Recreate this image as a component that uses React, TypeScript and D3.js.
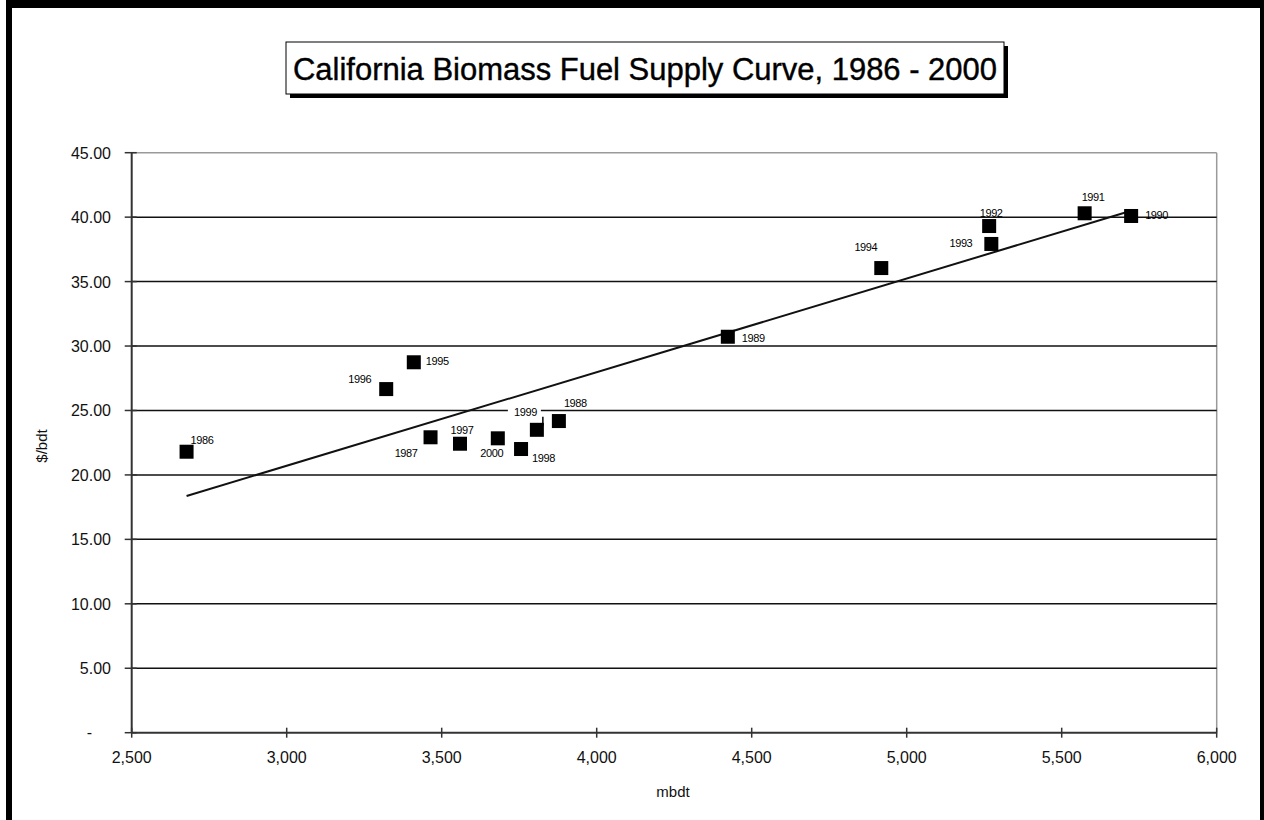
import React from "react";
import * as d3 from "d3";

// ---- data ----
const years = ["1986", "1987", "1988", "1989", "1990", "1991", "1992", "1993", "1994", "1995", "1996", "1997", "1998", "1999", "2000"];
const supplyMbdt = [2677, 3464, 3878, 4423, 5724, 5574, 5266, 5273, 4918, 3410, 3321, 3559, 3756, 3807, 3681];
const pricePerBdt = [21.8, 22.92, 24.18, 30.72, 40.09, 40.3, 39.31, 37.92, 36.05, 28.74, 26.66, 22.42, 22.01, 23.5, 22.84];
const xTicks = [2500, 3000, 3500, 4000, 4500, 5000, 5500, 6000];
const yTicks = [0, 5, 10, 15, 20, 25, 30, 35, 40, 45];
const titleText = "California Biomass Fuel Supply Curve, 1986 - 2000";

// label placement (layout only): dx, dy from marker centre, anchor
const labelLayout: Record<string, [number, number, string]> = {
  "1986": [4, -8, "start"],
  "1987": [-13, 20, "end"],
  "1988": [5, -14, "start"],
  "1989": [14, 5, "start"],
  "1990": [14, 3, "start"],
  "1991": [-3, -12, "start"],
  "1992": [2, -9, "middle"],
  "1993": [-19, 3, "end"],
  "1994": [-4, -17, "end"],
  "1995": [12, 3, "start"],
  "1996": [-15, -6, "end"],
  "1997": [2, -10, "middle"],
  "1998": [11, 13, "start"],
  "1999": [0, -14, "end"],
  "2000": [-6, 19, "middle"],
};

const W = 1264;
const H = 820;
const L = 131.7, R = 1216.7, T = 152.7, B = 732.7;

export default function App() {
  const x = d3.scaleLinear().domain([2500, 6000]).range([L, R]);
  const y = d3.scaleLinear().domain([0, 45]).range([B, T]);

  // linear regression trend line
  const n = supplyMbdt.length;
  const mx = d3.mean(supplyMbdt) as number;
  const my = d3.mean(pricePerBdt) as number;
  let sxy = 0, sxx = 0;
  for (let i = 0; i < n; i++) {
    sxy += (supplyMbdt[i] - mx) * (pricePerBdt[i] - my);
    sxx += (supplyMbdt[i] - mx) ** 2;
  }
  const slope = sxy / sxx;
  const icpt = my - slope * mx;
  const [x0, x1] = d3.extent(supplyMbdt) as [number, number];
  const trend = d3.line<number>().x((d) => x(d)).y((d) => y(icpt + slope * d))([x0, x1]) as string;

  const fmtX = d3.format(",");
  const fmtY = d3.format(".2f");
  const ms = 14;

  return (
    <svg width={W} height={H} style={{ position: "absolute", left: 0, top: 0, display: "block", background: "#fff" }} fontFamily="Arial, 'Liberation Sans', sans-serif">
      <rect x={0} y={0} width={W} height={H} fill="#fff" />
      {/* outer frame */}
      <rect x={6} y={0} width={6} height={H} fill="#000" />
      <rect x={6} y={0} width={W - 6} height={8} fill="#000" />
      <rect x={1260} y={0} width={4} height={H} fill="#000" />

      {/* title box */}
      <rect x={290} y={46} width={718} height={52} fill="#000" />
      <rect x={286} y={42} width={718} height={52} fill="#fff" stroke="#000" strokeWidth={1} />
      <text x={645} y={80} textAnchor="middle" fontSize={31} textLength={704} lengthAdjust="spacingAndGlyphs" fill="#000" stroke="#000" strokeWidth={0.4}>{titleText}</text>

      {/* plot border (top/right) */}
      <line x1={L} y1={T} x2={R} y2={T} stroke="#9a9a9a" strokeWidth={1.5} />
      <line x1={R} y1={T} x2={R} y2={B} stroke="#9a9a9a" strokeWidth={1.5} />

      {/* gridlines */}
      {yTicks.filter((t) => t > 0 && t < 45).map((t) => (
        <line key={"g" + t} x1={L} x2={R} y1={y(t)} y2={y(t)} stroke="#111" strokeWidth={1.5} />
      ))}

      {/* axes */}
      <line x1={L} y1={T} x2={L} y2={B} stroke="#333" strokeWidth={2} />
      <line x1={L} y1={B} x2={R} y2={B} stroke="#333" strokeWidth={2} />
      {yTicks.map((t) => (
        <g key={"yt" + t}>
          <line x1={L - 7} x2={L + 5} y1={y(t)} y2={y(t)} stroke="#333" strokeWidth={1.5} />
          {t === 0 ? (
            <text x={92} y={y(t) + 5} textAnchor="end" fontSize={16} fill="#111">-</text>
          ) : (
            <text x={111} y={y(t) + 6} textAnchor="end" fontSize={16} fill="#111">{fmtY(t)}</text>
          )}
        </g>
      ))}
      {xTicks.map((t) => (
        <g key={"xt" + t}>
          <line x1={x(t)} x2={x(t)} y1={B - 5} y2={B + 5} stroke="#333" strokeWidth={1.5} />
          <text x={x(t)} y={763} textAnchor="middle" fontSize={16} fill="#111">{fmtX(t)}</text>
        </g>
      ))}

      {/* axis titles */}
      <text x={673} y={797} textAnchor="middle" fontSize={15} fill="#111">mbdt</text>
      <text transform="translate(47,446) rotate(-90)" textAnchor="middle" fontSize={15} fill="#111">$/bdt</text>

      {/* trend line */}
      <path d={trend} fill="none" stroke="#111" strokeWidth={2} />

      {/* markers */}
      {years.map((yr, i) => (
        <rect key={"m" + yr} x={x(supplyMbdt[i]) - ms / 2} y={y(pricePerBdt[i]) - ms / 2} width={ms} height={ms} fill="#000" />
      ))}

      {/* labels */}
      {years.map((yr, i) => {
        const [dx, dy, anchor] = labelLayout[yr];
        const cx = x(supplyMbdt[i]);
        const cy = y(pricePerBdt[i]);
        const bg = yr === "1999";
        return (
          <g key={"l" + yr}>
            {bg && <rect x={cx + dx - 29} y={cy + dy - 10} width={33} height={15} fill="#fff" />}
            {bg && <line x1={cx + dx + 6} x2={cx + dx + 6} y1={cy + dy + 1} y2={cy - 4} stroke="#000" strokeWidth={1.5} />}
            <text x={cx + dx} y={cy + dy} textAnchor={anchor as any} fontSize={11} letterSpacing={-0.4} fill="#000">{yr}</text>
          </g>
        );
      })}
    </svg>
  );
}
